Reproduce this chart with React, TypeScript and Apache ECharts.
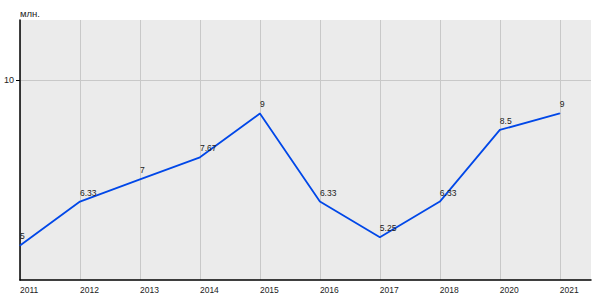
import React, { useEffect, useRef } from "react";
import * as echarts from "echarts";

const years = ["2011", "2012", "2013", "2014", "2015", "2016", "2017", "2018", "2020", "2021"];
const values = [5, 6.33, 7, 7.67, 9, 6.33, 5.25, 6.33, 8.5, 9];
const yTicks = [10];
const unitLabel = "млн.";

export default function App() {
  const ref = useRef<HTMLDivElement>(null);
  useEffect(() => {
    if (!ref.current) return;
    const chart = echarts.init(ref.current, undefined, { renderer: "svg" });
    const idx = years.map((_, i) => i);
    chart.setOption({
      animation: false,
      grid: { left: 20, right: 9, top: 20, bottom: 20, show: true, backgroundColor: "#ebebeb", borderWidth: 0 },
      graphic: [
        {
          type: "text",
          left: 20,
          top: 8,
          style: { text: unitLabel, fontSize: 9.5, fontFamily: "Liberation Sans, Arial", fill: "#222" },
        },
      ],
      xAxis: {
        type: "value",
        min: 0,
        max: 9.52,
        axisLine: { show: true, onZero: false, lineStyle: { color: "#000", width: 1.5 } },
        axisTick: { show: false, customValues: idx },
        axisLabel: {
          customValues: idx,
          formatter: (v: number) => years[Math.round(v)] ?? "",
          align: "left",
          fontSize: 8.5,
          color: "#222",
          fontFamily: "Liberation Sans, Arial",
          margin: 5,
        },
        splitLine: { show: true, lineStyle: { color: "#c8c8c8", width: 1 } },
      },
      yAxis: {
        type: "value",
        min: 3.955,
        max: 11.83,
        axisLine: { show: true, onZero: false, lineStyle: { color: "#000", width: 1.5 } },
        axisTick: { show: true, length: 4, customValues: yTicks, lineStyle: { color: "#000" } },
        axisLabel: {
          customValues: yTicks,
          fontSize: 9,
          color: "#222",
          fontFamily: "Liberation Sans, Arial",
          margin: 6,
        },
        splitLine: { show: true, lineStyle: { color: "#c8c8c8", width: 1 } },
      },
      series: [
        {
          type: "line",
          data: values.map((v, i) => [i, v]),
          symbol: "circle",
          symbolSize: 1,
          showSymbol: true,
          itemStyle: { color: "#0047e8" },
          lineStyle: { color: "#0047e8", width: 1.8 },
          label: {
            show: true,
            position: "top",
            align: "left",
            distance: 4,
            fontSize: 8.5,
            color: "#222",
            fontFamily: "Liberation Sans, Arial",
            formatter: (p: any) => String(p.value[1]),
          },
        },
      ],
    });
    return () => chart.dispose();
  }, []);
  return <div ref={ref} style={{ position: "absolute", left: 0, top: 0, width: 600, height: 300 }} />;
}
